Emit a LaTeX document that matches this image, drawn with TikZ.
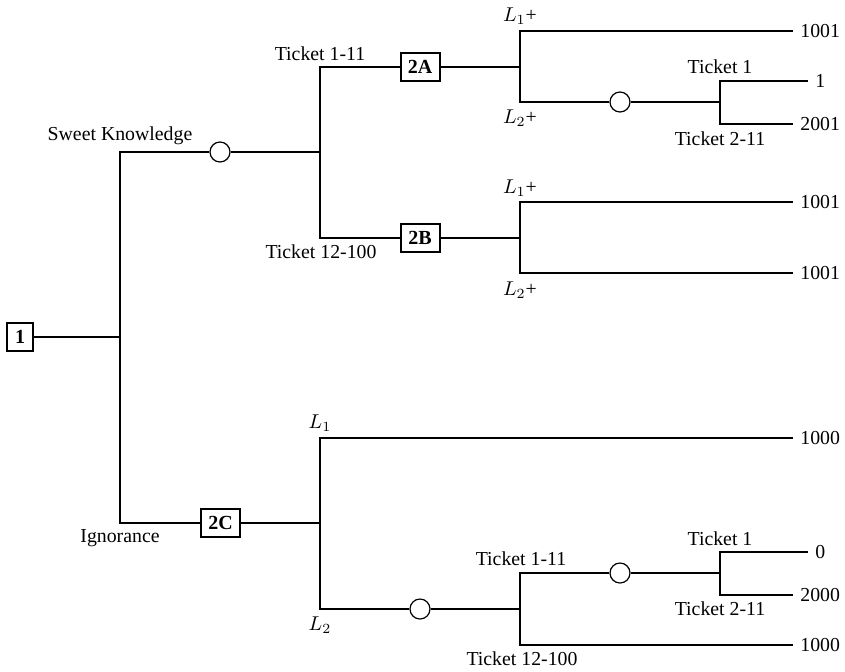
\documentclass[tikz,border=0pt]{standalone}
\usepackage{fontspec}
\setmainfont{Liberation Serif}
\tikzset{
    decision/.style={draw, line width=1pt, rectangle, minimum width=19.5pt, minimum height=14pt, inner sep=0pt, font=\bfseries, fill=white},
    chance/.style={draw, line width=0.6pt, circle, minimum size=10pt, inner sep=0pt, fill=white},
    branch/.style={line width=0.6pt},
    payoff/.style={anchor=west, inner xsep=3.5pt, inner ysep=0pt},
    lab/.style={inner sep=0pt}
}
\begin{document}
\begin{tikzpicture}[x=0.5pt, y=-0.5pt, font=\fontsize{9.9}{11}\selectfont]
    \useasboundingbox (0,0) rectangle (845,671);
    % decision and chance nodes
    \node[decision, minimum width=13pt] (D1) at (20,337) {1};
    \node[chance] (C1) at (220,152) {};
    \node[decision] (D2A) at (420,67) {2A};
    \node[decision] (D2B) at (420,238) {2B};
    \node[decision] (D2C) at (220.5,523) {2C};
    \node[chance] (C2) at (620,102) {};
    \node[chance] (C3) at (420,609) {};
    \node[chance] (C4) at (620,573) {};
    % junctions
    \coordinate (J1) at (120,337);
    \coordinate (J2) at (320,152);
    \coordinate (J3) at (520,67);
    \coordinate (J4) at (720,102);
    \coordinate (J5) at (520,238);
    \coordinate (J6) at (320,523);
    \coordinate (J7) at (520,609);
    \coordinate (J8) at (720,573);
    % payoffs
    \node[payoff] (P1) at (793,31) {1001};
    \node[payoff] (P2) at (808,81) {1};
    \node[payoff] (P3) at (793,124) {2001};
    \node[payoff] (P4) at (793,202) {1001};
    \node[payoff] (P5) at (793,273) {1001};
    \node[payoff] (P6) at (793,438) {1000};
    \node[payoff] (P7) at (808,552) {0};
    \node[payoff] (P8) at (793,595) {2000};
    \node[payoff] (P9) at (793,645) {1000};
    % branches
    \draw[branch] (D1) -- (J1);
    \draw[branch] (J1) |- (C1) -- (J2);
    \draw[branch] (J1) |- (D2C) -- (J6);
    \draw[branch] (J2) |- (D2A) -- (J3);
    \draw[branch] (J2) |- (D2B) -- (J5);
    \draw[branch] (J3) |- (P1.west);
    \draw[branch] (J3) |- (C2) -- (J4);
    \draw[branch] (J4) |- (P2.west);
    \draw[branch] (J4) |- (P3.west);
    \draw[branch] (J5) |- (P4.west);
    \draw[branch] (J5) |- (P5.west);
    \draw[branch] (J6) |- (P6.west);
    \draw[branch] (J6) |- (C3) -- (J7);
    \draw[branch] (J7) |- (C4) -- (J8);
    \draw[branch] (J8) |- (P7.west);
    \draw[branch] (J8) |- (P8.west);
    \draw[branch] (J7) |- (P9.west);
    % branch labels
    \node[lab] (sweet) at (120,136) {Sweet Knowledge};
    \node[lab] (ignor) at (120,538) {Ignorance};
    \node[lab] (t111a) at (320,53.5) {Ticket 1-11};
    \node[lab] (t12a) at (321,252) {Ticket 12-100};
    \node[lab] (l1a) at (520,16) {$L_1$+};
    \node[lab] (l2a) at (520,118) {$L_2$+};
    \node[lab] (t1a) at (720,67) {Ticket 1};
    \node[lab] (t211a) at (720,138.5) {Ticket 2-11};
    \node[lab] (l1b) at (520,188) {$L_1$+};
    \node[lab] (l2b) at (520,290) {$L_2$+};
    \node[lab] (l1c) at (320,423) {$L_1$};
    \node[lab] (l2c) at (320,625) {$L_2$};
    \node[lab] (t111b) at (521,559) {Ticket 1-11};
    \node[lab] (t12b) at (522,659) {Ticket 12-100};
    \node[lab] (t1b) at (720,539) {Ticket 1};
    \node[lab] (t211b) at (720,609) {Ticket 2-11};
\end{tikzpicture}
\end{document}
